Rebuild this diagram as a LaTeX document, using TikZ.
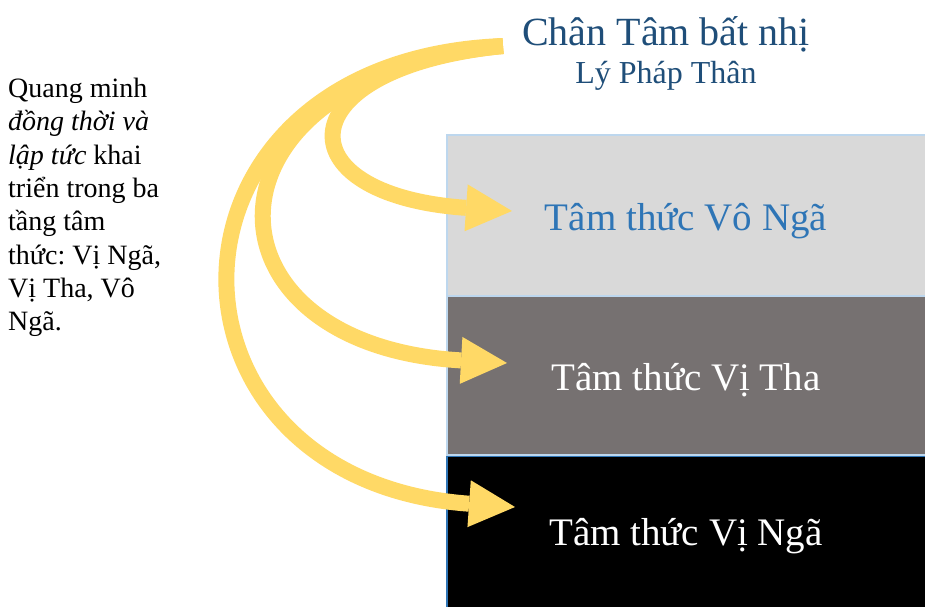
\documentclass[tikz,border=0pt]{standalone}
\usepackage{fontspec}
\setmainfont{Liberation Serif}
\usetikzlibrary{arrows.meta}
\definecolor{gold}{HTML}{FFD966}
\definecolor{lblue}{HTML}{BDD7EE}
\definecolor{mblue}{HTML}{2E75B6}
\definecolor{dblue}{HTML}{1F4E79}
\definecolor{lgray}{HTML}{D9D9D9}
\definecolor{mgray}{HTML}{767171}
\tikzset{
  layerbox/.style={draw=lblue, line width=2pt, minimum width=484pt, inner sep=0pt, anchor=north west},
  layertext/.style={font=\fontsize{39}{45}\selectfont, anchor=base},
  goldarrow/.style={draw=gold, line width=16pt, -{Triangle[width=47pt,length=46pt,line width=0pt]}}
}
\frenchspacing
\begin{document}
\begin{tikzpicture}[x=1pt,y=-1pt]
\clip (0,0) rectangle (925,606);
\fill[white] (0,0) rectangle (925,606);
% layers
\node[layerbox, fill=lgray, minimum height=161pt] (b1) at (446,134) {};
\node[layerbox, fill=mgray, minimum height=160pt] (b2) at (446,295) {};
\node[layerbox, fill=black, draw=mblue, minimum height=160pt] (b3) at (446,455) {};
\draw[lblue, line width=2pt] (b3.north west) -- (b3.north east);
% texts in layers
\node[layertext, text=mblue] (t1) at (686,230) {Tâm thức Vô Ngã};
\node[layertext, text=white] (t2) at (686,390) {Tâm thức Vị Tha};
\node[layertext, text=white] (t3) at (686,545) {Tâm thức Vị Ngã};
% title
\node[font=\fontsize{40}{46}\selectfont, text=dblue, anchor=base] (title) at (666,45) {Chân Tâm bất nhị};
\node[font=\fontsize{32}{38}\selectfont, text=dblue, anchor=base] (sub) at (666,83) {Lý Pháp Thân};
% left note
\node[font=\fontsize{28}{33.3}\selectfont, align=left, anchor=north west, inner sep=0pt] (note) at (8,78)
 {Quang minh\\ \textit{đồng thời và}\\ \textit{lập tức} khai\\ triển trong ba\\ tầng tâm\\ thức: Vị Ngã,\\ Vị Tha, Vô\\ Ngã.};
% arrows
\coordinate (src) at (503,46);
\coordinate (e1) at (512,211);
\coordinate (e2) at (507,363);
\coordinate (e3) at (515,507);
\draw[goldarrow] (src) .. controls (140,60) and (140,480) .. (e3);
\draw[goldarrow] (src) .. controls (190,75) and (190,345) .. (e2);
\draw[goldarrow] (src) .. controls (285,68) and (280,195) .. (e1);
\end{tikzpicture}
\end{document}
